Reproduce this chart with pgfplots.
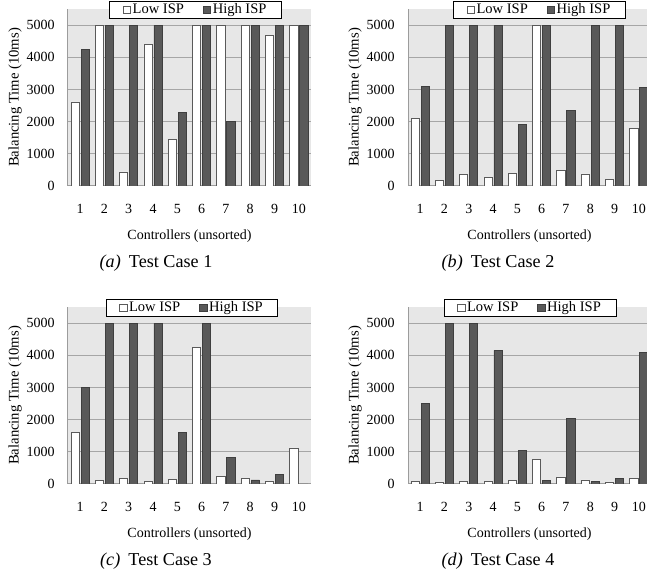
\documentclass[border=0pt]{standalone}
\usepackage{fontspec}
\setmainfont{Liberation Serif}
\usepackage{pgfplots}
\pgfplotsset{compat=1.18}
\definecolor{bgc}{HTML}{E7E7E7}
\definecolor{gridc}{HTML}{A6A6A6}
\definecolor{darkbar}{HTML}{595959}
\definecolor{darkedge}{HTML}{3F3F3F}
\definecolor{lightedge}{HTML}{5A5A5A}
\definecolor{axc}{HTML}{9C9C9C}

\pgfplotstableread{
x low high
1 2610 4250
2 5000 5000
3 435 5000
4 4410 5000
5 1440 2290
6 5000 5000
7 5000 2010
8 5000 5000
9 4680 5000
10 5000 5000
}\dataA
\pgfplotstableread{
x low high
1 2095 3100
2 165 5000
3 350 5000
4 270 5000
5 385 1910
6 5000 5000
7 477 2345
8 375 5000
9 205 5000
10 1795 3060
}\dataB
\pgfplotstableread{
x low high
1 1610 3000
2 115 5000
3 165 5000
4 85 5000
5 145 1600
6 4245 5000
7 240 820
8 175 125
9 75 290
10 1120 0
}\dataC
\pgfplotstableread{
x low high
1 85 2510
2 65 5000
3 70 5000
4 85 4150
5 115 1050
6 760 115
7 220 2045
8 125 85
9 65 175
10 165 4075
}\dataD

\pgfplotsset{
  panel/.style={
    scale only axis, width=182.25pt, height=132.75pt,
    anchor=south west,
    xmin=0.5, xmax=10.5, ymin=0, ymax=5500,
    ybar=1.3pt, bar width=6.2pt,
    xtick={1,...,10}, ytick={0,1000,...,5000},
    scaled y ticks=false,
    /pgf/number format/1000 sep={},
    /pgf/number format/assume math mode=true,
    axis lines*=left,
    axis line style={draw=axc, line width=0.75pt, -},
    major tick length=0pt,
    ymajorgrids, grid style={draw=gridc, line width=0.75pt},
    axis background/.style={fill=bgc},
    tick label style={font=\fontsize{10.5}{12}\selectfont},
    xticklabel style={anchor=center, yshift=-17.25pt},
    yticklabel style={anchor=east, inner sep=0pt, xshift=-9.75pt},
    xlabel={Controllers (unsorted)},
    ylabel={Balancing Time (10ms)},
    xlabel style={at={(axis description cs:0.5,-0.2825)}, anchor=center, font=\fontsize{10.5}{12}\selectfont},
    ylabel style={at={(axis description cs:-0.218,0.5)}, rotate=0, anchor=center, font=\fontsize{11}{12}\selectfont},
    legend columns=2,
    legend cell align=left,
    legend image code/.code={\draw[##1, line width=0.5pt] (0pt,-2.75pt) rectangle (5.5pt,2.75pt);},
    legend style={at={(#1,1)}, anchor=center, yshift=-0.6pt, draw=black, line width=0.6pt, fill=white,
      font=\fontsize{10.9}{12}\selectfont,
      inner xsep=10pt, inner ysep=1.2pt,
      nodes={inner xsep=1.3pt, inner ysep=0pt, text height=7.6pt, text depth=2.4pt},
      /tikz/every even column/.append style={column sep=13pt}},
  },
  lowbar/.style={fill=white, draw=lightedge, line width=0.6pt},
  highbar/.style={fill=darkbar, draw=darkedge, line width=0.6pt},
}

\begin{document}
\begin{tikzpicture}
\useasboundingbox (0pt,0pt) rectangle (485.25pt,432.75pt);

\begin{axis}[panel=0.525, at={(51pt,293.25pt)}]
\addplot[lowbar] table[x=x,y=low]{\dataA};
\addplot[highbar] table[x=x,y=high]{\dataA};
\legend{Low ISP, High ISP}
\end{axis}

\begin{axis}[panel=0.541, at={(306pt,293.25pt)}]
\addplot[lowbar] table[x=x,y=low]{\dataB};
\addplot[highbar] table[x=x,y=high]{\dataB};
\legend{Low ISP, High ISP}
\end{axis}

\begin{axis}[panel=0.51, at={(51pt,69.75pt)}]
\addplot[lowbar] table[x=x,y=low]{\dataC};
\addplot[highbar] table[x=x,y=high]{\dataC};
\legend{Low ISP, High ISP}
\end{axis}

\begin{axis}[panel=0.502, at={(306pt,69.75pt)}]
\addplot[lowbar] table[x=x,y=low]{\dataD};
\addplot[highbar] table[x=x,y=high]{\dataD};
\legend{Low ISP, High ISP}
\end{axis}

\node[font=\fontsize{13.6}{14}\selectfont] at (117pt,235.5pt) {\textit{(a)}\hspace{0.45em}Test Case 1};
\node[font=\fontsize{13.6}{14}\selectfont] at (373.5pt,235.5pt) {\textit{(b)}\hspace{0.45em}Test Case 2};
\node[font=\fontsize{13.6}{14}\selectfont] at (117pt,12pt) {\textit{(c)}\hspace{0.45em}Test Case 3};
\node[font=\fontsize{13.6}{14}\selectfont] at (373.5pt,12pt) {\textit{(d)}\hspace{0.45em}Test Case 4};
\end{tikzpicture}
\end{document}
